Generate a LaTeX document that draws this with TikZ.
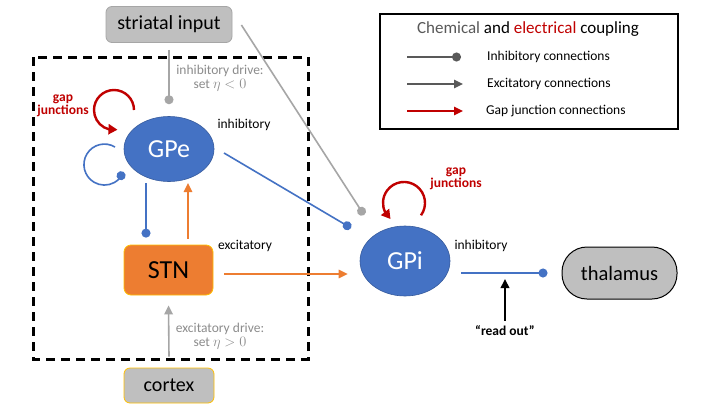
\documentclass[tikz,border=0pt]{standalone}
\usepackage{fontspec}
\setmainfont{Carlito}
\usetikzlibrary{arrows.meta,bending,shapes.geometric,calc}
\definecolor{cblue}{HTML}{4472C4}
\definecolor{corange}{HTML}{ED7D31}
\definecolor{cred}{HTML}{C00000}
\definecolor{cgold}{HTML}{FFC000}
\definecolor{cfill}{HTML}{BFBFBF}
\definecolor{cline}{HTML}{A6A6A6}
\definecolor{cdark}{HTML}{595959}
\definecolor{ctext}{HTML}{8C8C8C}
\newcommand{\fs}[1]{\fontsize{#1}{#1}\selectfont}
\begin{document}
\begin{tikzpicture}[x=1pt,y=1pt,
  inh/.style={-{Circle[length=9pt]}, line width=1.6pt},
  exc/.style={-{Triangle[length=9pt,width=8.5pt]}, line width=1.6pt},
  gaparrow/.style={-{Triangle[length=9pt,width=10pt]}, line width=2.4pt, cred},
  ell/.style={ellipse, fill=cblue, draw=cblue!80!black, line width=0.6pt, text=white, font=\fs{26}, inner sep=0pt},
  rbox/.style={rectangle, rounded corners=6pt, line width=0.8pt, inner sep=0pt},
  small/.style={font=\fs{13.5}},
  gaptext/.style={font=\bfseries\fs{13.5}, text=cred, align=center, inner sep=0pt}
]
\useasboundingbox (0,0) rectangle (720,-405);
\fill[white] (0,0) rectangle (720,-405);

% dashed frame
\draw[line width=3pt, dash pattern=on 9pt off 6pt] (33,-57) rectangle (308,-359);

% nodes
\node[rbox, fill=cfill, draw=cline, minimum width=126pt, minimum height=36pt, font=\fs{20}] (str) at (169,-24.5) {striatal input};
\node[ell, minimum width=90pt, minimum height=65pt] (GPe) at (169,-149) {GPe};
\node[rbox, rounded corners=7pt, fill=corange, draw=cgold, minimum width=89pt, minimum height=50pt, font=\fs{26}] (STN) at (168.5,-270) {STN};
\node[rbox, fill=cfill, draw=cgold, minimum width=90pt, minimum height=35pt, font=\fs{20}] (ctx) at (169,-385.5) {cortex};
\node[ell, minimum width=90pt, minimum height=70pt] (GPi) at (405,-261) {GPi};
\node[rbox, rounded corners=25pt, fill=cfill, draw=black, line width=1pt, minimum width=115pt, minimum height=52pt, font=\fs{20.5}] (thal) at (619.5,-273) {thalamus};

% labels
\node[small, text=ctext, align=center, inner sep=0pt] (inhdrive) at (220,-78) {inhibitory drive:\\[1pt] set $\eta<0$};
\node[small, text=ctext, align=center, inner sep=0pt] (excdrive) at (220,-336) {excitatory drive:\\[1pt] set $\eta>0$};
\node[gaptext] (gj1) at (63,-106) {gap\\junctions};
\node[gaptext] (gj2) at (456,-179) {gap\\junctions};
\node[small, inner sep=0pt] (inhGPe) at (244,-125) {inhibitory};
\node[small, inner sep=0pt] (excSTN) at (245,-246) {excitatory};
\node[small, inner sep=0pt] (inhGPi) at (481,-246) {inhibitory};
\node[font=\bfseries\fs{13.5}, inner sep=0pt] (rotext) at (505,-331) {“read out”};

% connectors
\draw[inh, cline] ($(str.south)+(0,-7)$) -- ($(GPe.north)+(0,12)$);
\draw[inh, cline] ($(str.east)+(9,-0.5)$) -- ($(GPi.center)+(-41,46)$);
\draw[inh, cblue] ($(GPe.center)+(-54,2)$) arc[start angle=59, end angle=339, radius=20.5];
\draw[gaparrow] ($(GPe.center)+(-35,39)$) arc[start angle=0, end angle=280, radius=20];
\draw[gaparrow] ($(GPi.center)+(16,45.7)$) arc[start angle=-36, end angle=230, radius=21];
\draw[inh, cblue] ($(GPe.center)+(55,-4)$) -- ($(GPi.center)+(-54,33)$);
\draw[inh, cblue] ($(GPe.center)+(-23,-34)$) -- ($(STN.north)+(-22.5,7)$);
\draw[exc, corange] ($(STN.north)+(19.5,6)$) -- ($(GPe.center)+(19,-34)$);
\draw[exc, corange] ($(STN.east)+(11,-4)$) -- ($(GPi.west)+(-12,-13)$);
\draw[exc, cline] ($(ctx.north)+(0,11)$) -- ($(STN.south)+(0,-10)$);
\draw[inh, cblue] ($(GPi.east)+(11,-12)$) -- ($(thal.west)+(-14,0)$);
\coordinate (roHead) at (505,-279);
\draw[exc, black, line width=2pt] ($(rotext.north)+(0,5)$) -- (roHead);

% legend
\draw[line width=1.2pt] (380,-14) rectangle (678,-129);
\node[font=\fs{17}, inner sep=0pt] (title) at (528,-29) {\textcolor{cdark}{Chemical} and \textcolor{cred}{electrical} coupling};
\coordinate (l1a) at (407,-57); \coordinate (l1b) at (461,-57);
\coordinate (l2a) at (407,-84); \coordinate (l2b) at (463,-84);
\coordinate (l3a) at (407,-111); \coordinate (l3b) at (463,-111);
\draw[inh, cdark] (l1a) -- (l1b);
\draw[exc, cdark] (l2a) -- (l2b);
\draw[exc, cred] (l3a) -- (l3b);
\node[small, anchor=west, inner sep=0pt] (t1) at (487,-57) {Inhibitory connections};
\node[small, anchor=west, inner sep=0pt] (t2) at (487,-84) {Excitatory connections};
\node[small, anchor=west, inner sep=0pt] (t3) at (486,-111) {Gap junction connections};
\end{tikzpicture}
\end{document}
